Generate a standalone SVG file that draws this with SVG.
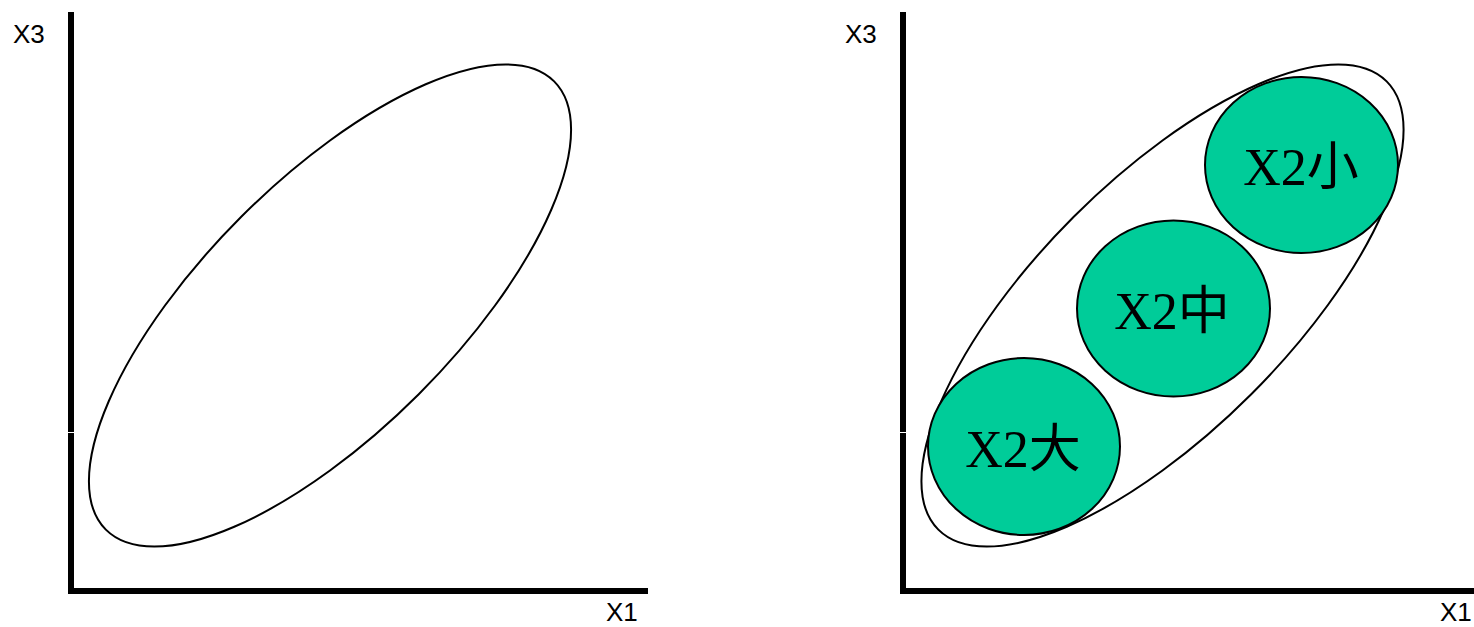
<svg xmlns="http://www.w3.org/2000/svg" width="1474" height="627" viewBox="0 0 1474 627">
<style>
.axis{fill:#000}
.gap{fill:#fff}
.lbl{font-family:"Liberation Sans",Arial,sans-serif;font-size:26px;fill:#000}
.big{fill:none;stroke:#000;stroke-width:2}
.grp{fill:#00CC99;stroke:#000;stroke-width:2}
.gt{font-family:"Liberation Serif","Noto Sans CJK JP",serif;font-size:52px;fill:#000;text-anchor:middle}
</style>
<g id="left-plot">
  <g id="left-axes">
    <rect class="axis" x="68" y="12" width="6" height="582"/>
    <rect class="gap" x="68" y="432" width="6" height="1"/>
    <rect class="axis" x="68" y="588" width="580" height="6"/>
    <text class="lbl" x="13" y="43">X3</text>
    <text class="lbl" x="606" y="621">X1</text>
  </g>
  <g id="left-ellipse">
    <ellipse class="big" cx="330" cy="305.5" rx="317" ry="125.5" transform="rotate(-45 330 305.5)"/>
  </g>
</g>
<g id="right-plot">
  <g id="right-axes">
    <rect class="axis" x="900" y="12" width="6" height="582"/>
    <rect class="gap" x="900" y="432" width="6" height="1"/>
    <rect class="axis" x="900" y="588" width="574" height="6"/>
    <text class="lbl" x="845" y="43">X3</text>
    <text class="lbl" x="1440" y="621">X1</text>
  </g>
  <g id="right-ellipse">
    <ellipse class="big" cx="1162.5" cy="305.5" rx="317" ry="125.5" transform="rotate(-45 1162.5 305.5)"/>
  </g>
  <g id="node-small">
    <ellipse class="grp" cx="1301.5" cy="165" rx="96.5" ry="88"/>
    <text class="gt" x="1301" y="185">X2小</text>
  </g>
  <g id="node-mid">
    <ellipse class="grp" cx="1173.5" cy="308.5" rx="96.5" ry="88"/>
    <text class="gt" x="1172" y="329">X2中</text>
  </g>
  <g id="node-large">
    <ellipse class="grp" cx="1024" cy="446.5" rx="96" ry="88.5"/>
    <text class="gt" x="1023" y="467">X2大</text>
  </g>
</g>
<g id="connectors"/>
</svg>
